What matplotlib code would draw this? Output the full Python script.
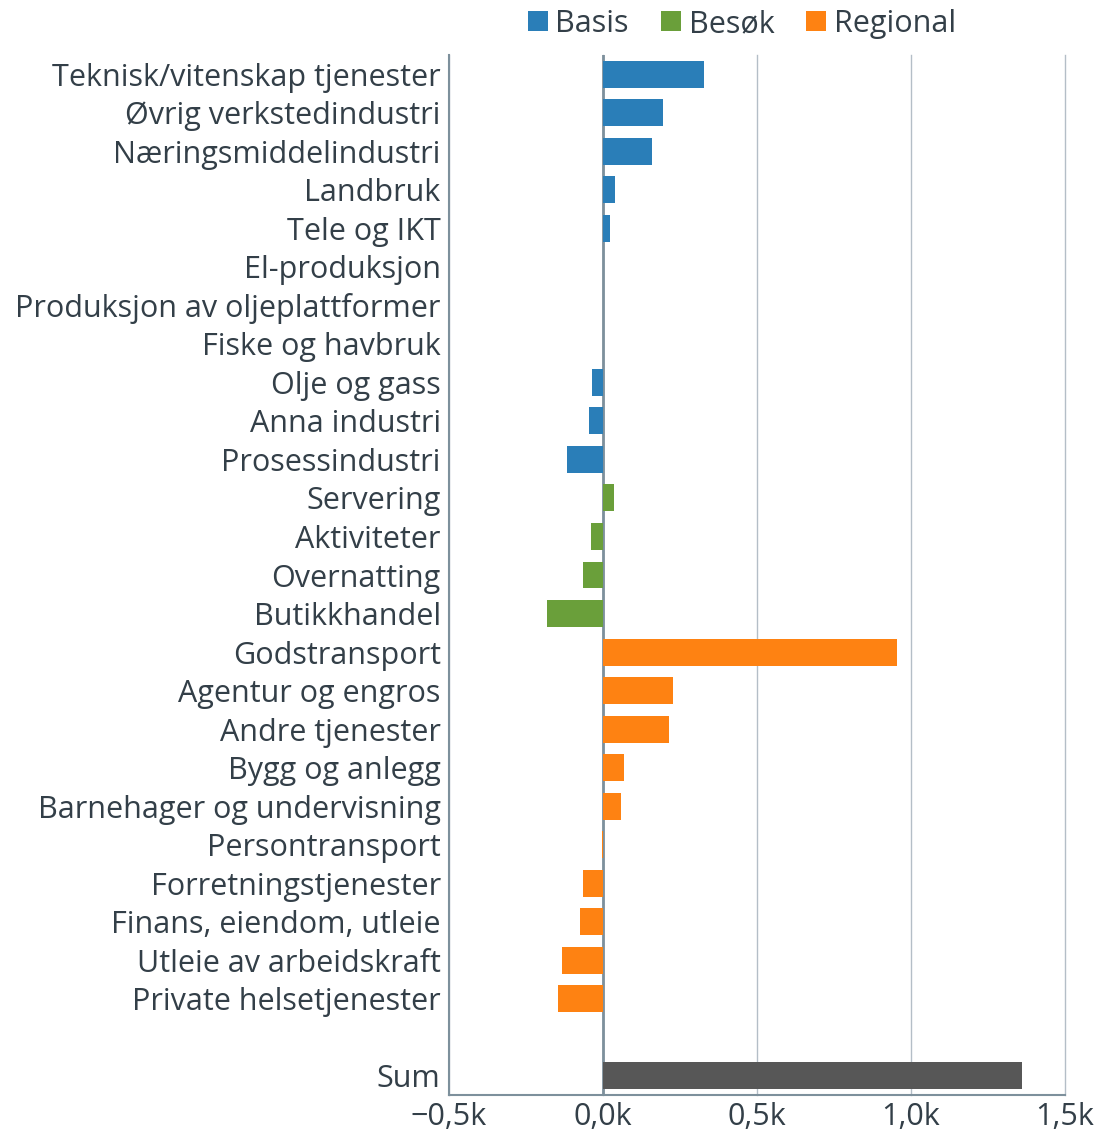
import matplotlib
matplotlib.use("Agg")
import matplotlib.pyplot as plt
from matplotlib.patches import Patch

plt.rcParams['font.family'] = ['Open Sans', 'DejaVu Sans']

categories = ["Teknisk/vitenskap tjenester", "Øvrig verkstedindustri", "Næringsmiddelindustri",
              "Landbruk", "Tele og IKT", "El-produksjon", "Produksjon av oljeplattformer",
              "Fiske og havbruk", "Olje og gass", "Anna industri", "Prosessindustri",
              "Servering", "Aktiviteter", "Overnatting", "Butikkhandel",
              "Godstransport", "Agentur og engros", "Andre tjenester", "Bygg og anlegg",
              "Barnehager og undervisning", "Persontransport", "Forretningstjenester",
              "Finans, eiendom, utleie", "Utleie av arbeidskraft", "Private helsetjenester"]
values = [328, 195, 159, 39, 23, 0, 0, 0, -35, -45, -117,
          36, -39, -65, -182,
          955, 227, 214, 68, 58, -4, -64, -74, -133, -146]
groups = ["Basis"] * 11 + ["Besøk"] * 4 + ["Regional"] * 10
sum_label = "Sum"
sum_value = 1359
xticks = [-500, 0, 500, 1000, 1500]
xticklabels = ["−0,5k", "0,0k", "0,5k", "1,0k", "1,5k"]

colors = {"Basis": "#2a7eb8", "Besøk": "#6a9f3a", "Regional": "#fe8212"}
sum_color = "#575757"
text_color = "#333f48"
grid_color = "#b4bec7"
axis_color = "#7d909c"
fs = 22

fig = plt.figure(figsize=(10.99, 11.35), dpi=100)
ax = fig.add_axes([449/1099, 1 - 1095/1135, (1065-449)/1099, (1095-55)/1135])

ypos = list(range(len(categories)))
ax.barh(ypos, values, height=0.7, color=[colors[g] for g in groups], zorder=3)
sum_y = len(categories) + 1
ax.barh([sum_y], [sum_value], height=0.7, color=sum_color, zorder=3)

ax.set_yticks(ypos + [sum_y])
ax.set_yticklabels(categories + [sum_label], fontsize=fs, color=text_color)
ax.set_ylim(sum_y + 0.5, -0.5)
ax.set_xlim(-500, 1500)
ax.set_xticks(xticks)
ax.set_xticklabels(xticklabels, fontsize=fs, color=text_color)
ax.tick_params(axis='x', length=0, pad=5)
ax.tick_params(axis='y', length=0, pad=6)

ax.grid(axis='x', color=grid_color, linewidth=1, zorder=0)
for gl in ax.get_xgridlines():
    gl.set_clip_on(False)
ax.axvline(0, color=axis_color, linewidth=2, zorder=2)
for s in ['top', 'right']:
    ax.spines[s].set_visible(False)
for s in ['left', 'bottom']:
    ax.spines[s].set_color(axis_color)
    ax.spines[s].set_linewidth(1.5)

handles = [Patch(facecolor=colors[k], label=k) for k in ["Basis", "Besøk", "Regional"]]
leg = fig.legend(handles=handles, loc='center', bbox_to_anchor=(742/1099, 1 - 24/1135),
                 ncol=3, frameon=False, fontsize=fs, handlelength=0.65, handleheight=0.65,
                 handletextpad=0.25, columnspacing=1.05, borderpad=0)
for t in leg.get_texts():
    t.set_color(text_color)

fig.savefig("out.png", dpi=100)
